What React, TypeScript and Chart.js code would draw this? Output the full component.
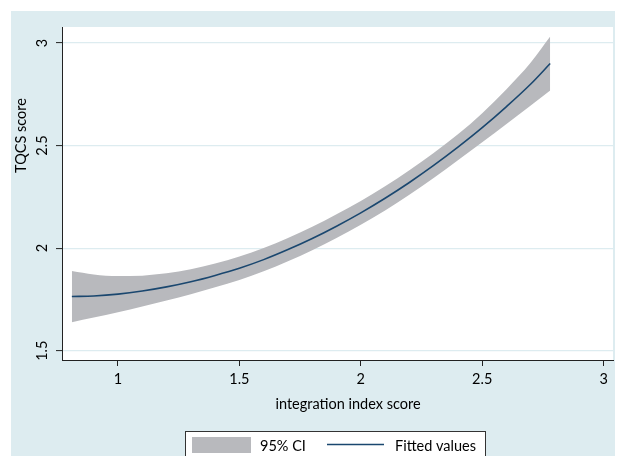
import React, { useEffect, useRef } from "react";
import { Chart, registerables } from "chart.js";

Chart.register(...registerables);

// ---- data ----
const xValues = [0.81, 0.9, 1.0, 1.1, 1.2, 1.3, 1.4, 1.5, 1.6, 1.7, 1.8, 1.9, 2.0, 2.1, 2.2, 2.3, 2.4, 2.5, 2.6, 2.7, 2.78];
const fittedValues = [1.764, 1.767, 1.776, 1.791, 1.811, 1.836, 1.867, 1.902, 1.944, 1.993, 2.047, 2.107, 2.172, 2.243, 2.32, 2.403, 2.492, 2.587, 2.69, 2.8, 2.9];
const upperCI = [1.889, 1.872, 1.864, 1.866, 1.877, 1.897, 1.925, 1.959, 2.001, 2.05, 2.104, 2.165, 2.23, 2.302, 2.38, 2.464, 2.555, 2.658, 2.775, 2.905, 3.032];
const lowerCI = [1.639, 1.662, 1.688, 1.716, 1.745, 1.775, 1.809, 1.845, 1.887, 1.936, 1.99, 2.049, 2.114, 2.184, 2.26, 2.342, 2.429, 2.516, 2.605, 2.695, 2.768];
const xTicks = [1, 1.5, 2, 2.5, 3];
const yTicks = [1.5, 2, 2.5, 3];
const xTitle = "integration index score";
const yTitle = "TQCS score";
const seriesLabels = ["95% CI", "Fitted values"];

// ---- styles ----
const FONT = "Lato";
const FSIZE = 14.5;
const BLUE_BG = "rgb(221,236,240)";
const GRID = "rgb(221,236,240)";
const BAND = "rgb(184,185,189)";
const NAVY = "rgb(26,71,111)";
const TEXT = "#000";
const AXIS = "#222";

const decor = {
  id: "decor",
  beforeDraw(chart: any) {
    const { ctx, chartArea: ca, width, height } = chart;
    ctx.save();
    ctx.fillStyle = "#fff";
    ctx.fillRect(0, 0, width, height);
    ctx.fillStyle = BLUE_BG;
    ctx.fillRect(11, 11, width - 15, height - 11);
    ctx.fillStyle = "#fff";
    ctx.fillRect(ca.left, ca.top, ca.right - ca.left, ca.bottom - ca.top);
    ctx.restore();
  },
  afterDraw(chart: any) {
    const { ctx } = chart;
    ctx.save();
    ctx.fillStyle = TEXT;
    ctx.font = `${FSIZE}px ${FONT}`;
    // x title
    ctx.textAlign = "center";
    ctx.textBaseline = "alphabetic";
    ctx.fillText(xTitle, 348, 408.5);
    // y title
    ctx.save();
    ctx.translate(25.5, 135.5);
    ctx.rotate(-Math.PI / 2);
    ctx.fillText(yTitle, 0, 0);
    ctx.restore();

    // legend
    ctx.fillStyle = "#fff";
    ctx.fillRect(185.5, 431.5, 300, 40);
    ctx.strokeStyle = "#333";
    ctx.lineWidth = 1;
    ctx.strokeRect(185.5, 431.5, 300, 40);
    ctx.fillStyle = BAND;
    ctx.fillRect(192, 437, 59, 16);
    ctx.strokeStyle = NAVY;
    ctx.lineWidth = 1.6;
    ctx.beginPath();
    ctx.moveTo(327, 444.5);
    ctx.lineTo(384, 444.5);
    ctx.stroke();
    ctx.fillStyle = TEXT;
    ctx.textAlign = "left";
    ctx.fillText(chart.data.datasets[1].label, 260, 450.5);
    ctx.fillText(chart.data.datasets[2].label, 395, 450.5);
    ctx.restore();
  },
};

export default function App() {
  const ref = useRef<HTMLCanvasElement | null>(null);

  useEffect(() => {
    document.body.style.margin = "0";
    const canvas = ref.current;
    if (!canvas) return;
    const pts = (ys: number[]) => xValues.map((x, i) => ({ x, y: ys[i] }));
    const chart = new Chart(canvas, {
      type: "line",
      data: {
        datasets: [
          {
            label: "lower",
            data: pts(lowerCI),
            borderColor: "rgba(0,0,0,0)",
            borderWidth: 1,
            backgroundColor: BAND,
            pointRadius: 0,
            fill: false,
            order: 2,
            cubicInterpolationMode: "monotone",
          },
          {
            label: seriesLabels[0],
            data: pts(upperCI),
            borderColor: "rgba(0,0,0,0)",
            borderWidth: 1,
            backgroundColor: BAND,
            pointRadius: 0,
            fill: "-1",
            order: 1,
            cubicInterpolationMode: "monotone",
          },
          {
            label: seriesLabels[1],
            data: pts(fittedValues),
            borderColor: NAVY,
            borderWidth: 1.6,
            pointRadius: 0,
            fill: false,
            order: 0,
            cubicInterpolationMode: "monotone",
          },
        ],
      },
      options: {
        responsive: false,
        animation: false,
        devicePixelRatio: 1,
        layout: { padding: { left: 0, right: 6, top: 27, bottom: 0 } },
        plugins: {
          legend: { display: false },
          tooltip: { enabled: false },
          filler: { propagate: false },
        },
        scales: {
          x: {
            type: "linear",
            min: 0.7694,
            max: 3.0387,
            afterBuildTicks: (s: any) => {
              s.ticks = xTicks.map((v) => ({ value: v }));
            },
            afterFit: (s: any) => {
              s.height = 96;
            },
            grid: {
              drawOnChartArea: false,
              drawTicks: true,
              tickLength: 6,
              tickColor: AXIS,
              tickWidth: 1,
            },
            border: { display: true, color: AXIS, width: 1 },
            ticks: {
              font: { family: FONT, size: FSIZE },
              color: TEXT,
              padding: 5,
              maxRotation: 0,
              autoSkip: false,
              callback: (v: any) => String(v),
            },
          },
          y: {
            type: "linear",
            min: 1.4547,
            max: 3.078,
            afterBuildTicks: (s: any) => {
              s.ticks = yTicks.map((v) => ({ value: v }));
            },
            afterFit: (s: any) => {
              s.width = 62;
            },
            grid: {
              color: GRID,
              lineWidth: 1.2,
              drawTicks: true,
              tickLength: 6,
              tickColor: AXIS,
              tickWidth: 1,
            },
            border: { display: true, color: AXIS, width: 1 },
            ticks: {
              font: { family: FONT, size: FSIZE },
              color: TEXT,
              padding: 4,
              minRotation: 90,
              maxRotation: 90,
              crossAlign: "center",
              autoSkip: false,
              callback: (v: any) => String(v),
            },
          },
        },
      } as any,
      plugins: [decor],
    });
    return () => chart.destroy();
  }, []);

  return (
    <div style={{ position: "fixed", left: 0, top: 0, width: 619, height: 456 }}>
      <canvas ref={ref} width={619} height={456} />
    </div>
  );
}
